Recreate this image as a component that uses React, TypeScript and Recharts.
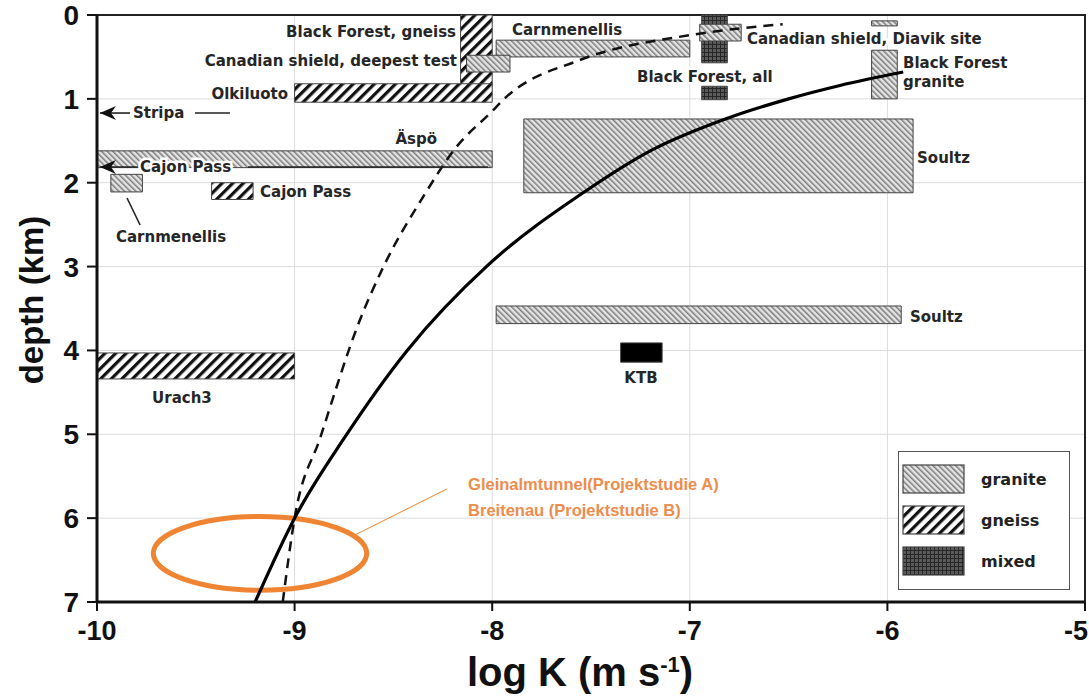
import React from "react";
import {
  ComposedChart,
  Line,
  XAxis,
  YAxis,
  CartesianGrid,
  ReferenceArea,
  ReferenceLine,
  ReferenceDot,
  Legend,
} from "recharts";

const xTicks = [-10, -9, -8, -7, -6, -5];
const depthTicks = [0, 1, 2, 3, 4, 5, 6, 7];

// model curves, log K against depth (km)
const solidCurve = [
  { x: -9.2, depth: 7.0 },
  { x: -9.0, depth: 6.0 },
  { x: -8.75, depth: 5.05 },
  { x: -8.43, depth: 4.0 },
  { x: -8.02, depth: 2.98 },
  { x: -7.54, depth: 2.12 },
  { x: -7.2, depth: 1.62 },
  { x: -6.82, depth: 1.24 },
  { x: -6.5, depth: 1.0 },
  { x: -6.24, depth: 0.84 },
  { x: -5.92, depth: 0.68 },
];

const dashedCurve = [
  { x: -9.06, depth: 7.0 },
  { x: -9.0, depth: 6.0 },
  { x: -8.87, depth: 5.04 },
  { x: -8.67, depth: 3.64 },
  { x: -8.55, depth: 3.0 },
  { x: -8.35, depth: 2.17 },
  { x: -8.18, depth: 1.57 },
  { x: -8.01, depth: 1.17 },
  { x: -7.93, depth: 0.98 },
  { x: -7.56, depth: 0.54 },
  { x: -7.0, depth: 0.24 },
  { x: -6.53, depth: 0.11 },
];

// measured ranges: log K from/to, depth from/to
const wells = [
  { rock: "gneiss", x1: -8.16, x2: -8.0, d1: 0, d2: 0.85 },
  { rock: "granite", x1: -7.98, x2: -7.0, d1: 0.3, d2: 0.5 },
  { rock: "granite", x1: -8.13, x2: -7.91, d1: 0.48, d2: 0.68 },
  { rock: "gneiss", x1: -9.0, x2: -8.0, d1: 0.82, d2: 1.04 },
  { rock: "granite", x1: -10.0, x2: -8.0, d1: 1.62, d2: 1.82 },
  { rock: "granite", x1: -9.93, x2: -9.77, d1: 1.9, d2: 2.11 },
  { rock: "gneiss", x1: -9.42, x2: -9.21, d1: 2.0, d2: 2.2 },
  { rock: "mixed", x1: -6.94, x2: -6.81, d1: 0, d2: 0.57 },
  { rock: "mixed", x1: -6.94, x2: -6.81, d1: 0.85, d2: 1.01 },
  { rock: "granite", x1: -6.95, x2: -6.74, d1: 0.11, d2: 0.31 },
  { rock: "granite", x1: -6.08, x2: -5.95, d1: 0.07, d2: 0.13 },
  { rock: "granite", x1: -6.08, x2: -5.95, d1: 0.42, d2: 1.0 },
  { rock: "granite", x1: -7.84, x2: -5.87, d1: 1.24, d2: 2.12 },
  { rock: "granite", x1: -7.98, x2: -5.93, d1: 3.47, d2: 3.68 },
  { rock: "ktb", x1: -7.35, x2: -7.14, d1: 3.91, d2: 4.14 },
  { rock: "gneiss", x1: -10.0, x2: -9.0, d1: 4.03, d2: 4.34 },
];

const siteLabels = [
  { text: "Black Forest, gneiss", x: -8.183, depth: 0.262, anchor: "end" },
  { text: "Canadian shield, deepest test", x: -8.178, depth: 0.608, anchor: "end" },
  { text: "Olkiluoto", x: -9.033, depth: 1.0, anchor: "end" },
  { text: "Stripa", x: -9.818, depth: 1.234, anchor: "start" },
  { text: "Äspö", x: -8.279, depth: 1.538, anchor: "end" },
  { text: "Cajon Pass", x: -9.782, depth: 1.878, anchor: "start", halo: true },
  { text: "Cajon Pass", x: -9.175, depth: 2.17, anchor: "start" },
  { text: "Carnmenellis", x: -9.904, depth: 2.707, anchor: "start" },
  { text: "Carnmenellis", x: -7.9, depth: 0.238, anchor: "start" },
  { text: "Canadian shield, Diavik site", x: -6.711, depth: 0.346, anchor: "start", halo: true },
  { text: "Black Forest, all", x: -7.267, depth: 0.799, anchor: "start", halo: true },
  { text: "Black Forest", x: -5.921, depth: 0.632, anchor: "start" },
  { text: "granite", x: -5.921, depth: 0.859, anchor: "start" },
  { text: "Soultz", x: -5.85, depth: 1.765, anchor: "start" },
  { text: "Soultz", x: -5.886, depth: 3.661, anchor: "start" },
  { text: "KTB", x: -7.247, depth: 4.388, anchor: "middle" },
  { text: "Urach3", x: -9.57, depth: 4.627, anchor: "middle" },
];

const leaders = [
  { x1: -9.985, x2: -9.833, d1: 1.169, d2: 1.169, head: true },
  { x1: -9.504, x2: -9.327, d1: 1.169, d2: 1.169, head: false },
  { x1: -9.985, x2: -9.793, d1: 1.813, d2: 1.813, head: true },
  { x1: -9.236, x2: -8.021, d1: 1.813, d2: 1.813, head: false },
  { x1: -9.848, x2: -9.782, d1: 2.182, d2: 2.504, head: false },
];

const studyArea = { x: -9.175, depth: 6.42, halfWidth: 0.54, halfDepth: 0.44 };
const studyLeader = { x1: -8.694, d1: 6.2, x2: -8.229, d2: 5.652 };
const studyLabels = [
  { text: "Gleinalmtunnel(Projektstudie A)", x: -8.122, depth: 5.664 },
  { text: "Breitenau (Projektstudie B)", x: -8.122, depth: 5.974 },
];

const rockTypes = [
  { key: "granite", label: "granite" },
  { key: "gneiss", label: "gneiss" },
  { key: "mixed", label: "mixed" },
];

const rockFill: Record<string, string> = {
  granite: "url(#granite)",
  gneiss: "url(#gneiss)",
  mixed: "url(#mixed)",
  ktb: "#000",
};

const ORANGE = "#EF8433";
const labelFont = "'DejaVu Sans', Verdana, sans-serif";
const axisFont = "'Liberation Sans', Arial, sans-serif";
const narrowFont = "'Liberation Sans Narrow', 'Arial Narrow', 'Liberation Sans', Arial, sans-serif";

const RockLegend = () => (
  <div
    style={{
      width: 172,
      height: 139,
      boxSizing: "border-box",
      border: "1.5px solid #555",
      background: "#fff",
      position: "relative",
      fontFamily: labelFont,
      fontWeight: 700,
      fontSize: 16,
      color: "#222",
    }}
  >
    {rockTypes.map((r, i) => (
      <div key={r.key} style={{ position: "absolute", left: 3, top: 12 + i * 41, height: 30, display: "flex", alignItems: "center" }}>
        <svg width={64} height={30}>
          <rect x={1} y={1} width={61} height={28} fill={rockFill[r.key]} stroke="#444" strokeWidth={1.2} />
        </svg>
        <span style={{ marginLeft: 15 }}>{r.label}</span>
      </div>
    ))}
  </div>
);

// last tick label is pulled in so it stays inside the picture
const XTick = (props: any) => {
  const { x, y, payload, index } = props;
  const last = index === xTicks.length - 1;
  return (
    <text
      x={last ? x + 3 : x}
      y={y}
      dy="0.71em"
      textAnchor={last ? "end" : "middle"}
      fontFamily={narrowFont}
      fontWeight={700}
      fontSize={27}
      fill="#111"
    >
      {payload.value}
    </text>
  );
};

const renderXTitle = (props: any) => {
  const vb = props.viewBox;
  const cx = vb.x + vb.width / 2 - 11;
  const y = vb.y + 84;
  return (
    <text x={cx} y={y} textAnchor="middle" fontFamily={narrowFont} fontWeight={700} fontSize={40} fill="#111">
      <tspan>log K (m s</tspan>
      <tspan dy={-14} fontSize={22}>-1</tspan>
      <tspan dy={14}>)</tspan>
    </text>
  );
};

const renderYTitle = (props: any) => {
  const vb = props.viewBox;
  const cx = vb.x - 16;
  const cy = vb.y + 285;
  return (
    <text
      x={cx}
      y={cy}
      transform={`rotate(-90 ${cx} ${cy})`}
      textAnchor="middle"
      dominantBaseline="central"
      fontFamily={axisFont}
      fontWeight={700}
      fontSize={33}
      fill="#111"
    >
      depth (km)
    </text>
  );
};

export default function App() {
  return (
    <div style={{ position: "absolute", left: 0, top: 0, width: 1089, height: 697, background: "#fff" }}>
      <ComposedChart width={1089} height={697} margin={{ top: 15, right: 4, bottom: 0, left: 47 }}>
        <defs>
          <pattern id="granite" width="4" height="4" patternUnits="userSpaceOnUse" patternTransform="rotate(-45)">
            <rect width="4" height="4" fill="#e4e4e4" />
            <rect width="1.5" height="4" fill="#7c7c7c" />
          </pattern>
          <pattern id="gneiss" width="7.5" height="7.5" patternUnits="userSpaceOnUse" patternTransform="rotate(45)">
            <rect width="7.5" height="7.5" fill="#fff" />
            <rect width="3.2" height="7.5" fill="#111" />
          </pattern>
          <pattern id="mixed" width="4" height="4" patternUnits="userSpaceOnUse">
            <rect width="4" height="4" fill="#5a5a5a" />
            <path d="M0 0.5H4M0.5 0V4" stroke="#262626" strokeWidth="1" />
          </pattern>
        </defs>
        <CartesianGrid stroke="#dcdcdc" strokeWidth={1} />
        <XAxis
          type="number"
          dataKey="x"
          domain={[-10, -5]}
          ticks={xTicks}
          interval={0}
          allowDataOverflow
          height={95}
          axisLine={{ stroke: "#111", strokeWidth: 3 }}
          tickLine={{ stroke: "#111", strokeWidth: 2 }}
          tickSize={9}
          tickMargin={10}
          tick={<XTick />}
          label={renderXTitle}
        />
        <YAxis
          type="number"
          dataKey="depth"
          domain={[0, 7]}
          reversed
          ticks={depthTicks}
          interval={0}
          allowDataOverflow
          width={50}
          axisLine={{ stroke: "#111", strokeWidth: 3 }}
          tickLine={{ stroke: "#111", strokeWidth: 2 }}
          tickSize={10}
          tickMargin={8}
          tick={{ fontFamily: axisFont, fontWeight: 700, fontSize: 28, fill: "#111" }}
          label={renderYTitle}
        />
        <ReferenceArea x1={-10} x2={-5} y1={0} y2={7} fill="none" fillOpacity={0} stroke="#222" strokeWidth={2} ifOverflow="visible" />
        {wells.map((w, i) => (
          <ReferenceArea
            key={"w" + i}
            x1={w.x1}
            x2={w.x2}
            y1={w.d1}
            y2={w.d2}
            fill={rockFill[w.rock]}
            fillOpacity={1}
            stroke="#444"
            strokeWidth={1}
            ifOverflow="visible"
          />
        ))}
        <Line
          data={dashedCurve}
          dataKey="depth"
          type="monotone"
          stroke="#111"
          strokeWidth={2.5}
          strokeDasharray="10 7"
          dot={false}
          activeDot={false}
          isAnimationActive={false}
        />
        <Line
          data={solidCurve}
          dataKey="depth"
          type="monotone"
          stroke="#000"
          strokeWidth={3.2}
          dot={false}
          activeDot={false}
          isAnimationActive={false}
        />
        {leaders.map((l, i) => (
          <ReferenceLine
            key={"l" + i}
            segment={[
              { x: l.x1, y: l.d1 },
              { x: l.x2, y: l.d2 },
            ]}
            ifOverflow="visible"
            shape={(p: any) => (
              <g>
                <line x1={p.x1} y1={p.y1} x2={p.x2} y2={p.y2} stroke="#222" strokeWidth={1.6} />
                {l.head && (
                  <path d={`M${p.x1} ${p.y1} l16 -7 l-5 7 l5 7 z`} fill="#111" />
                )}
              </g>
            )}
          />
        ))}
        <ReferenceArea
          x1={studyArea.x - studyArea.halfWidth}
          x2={studyArea.x + studyArea.halfWidth}
          y1={studyArea.depth - studyArea.halfDepth}
          y2={studyArea.depth + studyArea.halfDepth}
          ifOverflow="visible"
          shape={(p: any) => (
            <ellipse
              cx={p.x + p.width / 2}
              cy={p.y + p.height / 2}
              rx={Math.abs(p.width) / 2}
              ry={Math.abs(p.height) / 2}
              fill="none"
              stroke={ORANGE}
              strokeWidth={5}
            />
          )}
        />
        <ReferenceLine
          segment={[
            { x: studyLeader.x1, y: studyLeader.d1 },
            { x: studyLeader.x2, y: studyLeader.d2 },
          ]}
          stroke={ORANGE}
          strokeWidth={1}
          ifOverflow="visible"
        />
        {siteLabels.map((l, i) => (
          <ReferenceDot
            key={"t" + i}
            x={l.x}
            y={l.depth}
            r={0}
            ifOverflow="visible"
            shape={(p: any) => (
              <text
                x={p.cx}
                y={p.cy}
                textAnchor={l.anchor}
                fontFamily={labelFont}
                fontWeight={700}
                fontSize={15}
                fill="#262626"
                stroke={l.halo ? "#fff" : "none"}
                strokeWidth={l.halo ? 5 : 0}
                style={{ paintOrder: "stroke" }}
              >
                {l.text}
              </text>
            )}
          />
        ))}
        {studyLabels.map((l, i) => (
          <ReferenceDot
            key={"s" + i}
            x={l.x}
            y={l.depth}
            r={0}
            ifOverflow="visible"
            shape={(p: any) => (
              <text x={p.cx} y={p.cy} fontFamily={axisFont} fontWeight={700} fontSize={16.5} fill="#EE8C4C">
                {l.text}
              </text>
            )}
          />
        ))}
        <Legend
          layout="horizontal"
          verticalAlign="middle"
          align="center"
          wrapperStyle={{ left: 898, top: 451, width: 172, height: 139 }}
          content={() => <RockLegend />}
        />
      </ComposedChart>
    </div>
  );
}
